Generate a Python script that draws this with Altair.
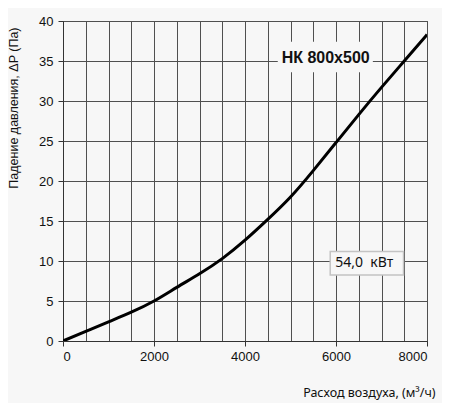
import altair as alt
import pandas as pd

# Data
airflow = [0, 500, 1000, 1500, 2000, 2500, 3000, 3500, 4000, 4500, 5000, 5500, 6000, 6500, 7000, 7500, 8000]
pressure = [0, 1.2, 2.4, 3.6, 5.0, 6.7, 8.4, 10.3, 12.6, 15.2, 18.0, 21.3, 24.8, 28.3, 31.7, 35.0, 38.3]

model_label = ["НК 800x500"]
power_label = ["54,0\u00a0\u00a0кВт"]

x_grid_values = list(range(0, 8001, 500))
y_values = list(range(0, 41, 5))

BG = "#f7f7f7"
GRID = "#505050"

curve_df = pd.DataFrame({"x": airflow, "y": pressure})

x_scale = alt.Scale(domain=[0, 8000], nice=False)
y_scale = alt.Scale(domain=[0, 40], nice=False)

x_axis = alt.Axis(
    title="Расход воздуха, (м³/ч)",
    values=x_grid_values,
    labelExpr="datum.value % 2000 === 0 ? datum.label : ''",
    labelOverlap=False,
    format="d",
    grid=True,
    gridColor=GRID,
    gridWidth=1,
    gridOpacity=1,
    tickOpacity={"condition": {"test": "datum.value % 2000 === 0", "value": 1}, "value": 0},
    tickColor="#333333",
    tickSize=5,
    domainColor="#333333",
    labelFont="Liberation Sans",
    labelFontSize=13,
    labelColor="#111111",
    labelPadding=4,
    titleFont="Noto Sans",
    titleFontSize=12.5,
    titleFontWeight="normal",
    titleColor="#111111",
    titleX=372,
    titleY=51,
    titleAlign="right",
    titleBaseline="middle",
)

y_axis = alt.Axis(
    title="Падение давления, ΔP (Па)",
    values=y_values,
    labelOverlap=False,
    grid=True,
    gridColor=GRID,
    gridWidth=1,
    gridOpacity=1,
    tickColor="#333333",
    tickSize=5,
    domainColor="#333333",
    labelFont="Liberation Sans",
    labelFontSize=13,
    labelColor="#111111",
    labelPadding=5,
    titleFont="Liberation Sans",
    titleFontSize=12.5,
    titleFontWeight="normal",
    titleColor="#111111",
    titleAngle=270,
    titleX=-50,
    titleY=6,
    titleAlign="right",
    titleBaseline="middle",
)

X = lambda f: alt.X(f, scale=x_scale, axis=x_axis)
Y = lambda f: alt.Y(f, scale=y_scale, axis=y_axis)

curve = alt.Chart(curve_df).mark_line(
    color="#000000", strokeWidth=3, interpolate="natural", clip=True
).encode(x=X("x:Q"), y=Y("y:Q"))

# Annotation boxes and texts (data coordinates)
model_box_df = pd.DataFrame({"x": [4720], "x2": [6810], "y": [37.4], "y2": [33.6]})
model_box = alt.Chart(model_box_df).mark_rect(fill=BG).encode(
    x=X("x:Q"), x2="x2:Q", y=Y("y:Q"), y2="y2:Q"
)
model_text = alt.Chart(pd.DataFrame({"x": [5773], "y": [35.4], "t": model_label})).mark_text(
    font="Liberation Sans", fontSize=16, fontWeight="bold", color="#111111",
    align="center", baseline="middle"
).encode(x=X("x:Q"), y=Y("y:Q"), text="t:N")

power_box_df = pd.DataFrame({"x": [5873], "x2": [7484], "y": [11.2], "y2": [8.25]})
power_box = alt.Chart(power_box_df).mark_rect(fill=BG, stroke="#c4c4c4", strokeWidth=1.5).encode(
    x=X("x:Q"), x2="x2:Q", y=Y("y:Q"), y2="y2:Q"
)
power_text = alt.Chart(pd.DataFrame({"x": [6620], "y": [9.7], "t": power_label})).mark_text(
    font="Noto Sans", fontSize=14, color="#111111", align="center", baseline="middle"
).encode(x=X("x:Q"), y=Y("y:Q"), text="t:N")

chart = alt.layer(curve, model_box, power_box, model_text, power_text).properties(
    width=364,
    height=320,
    background=BG,
    padding={"left": 55, "top": 13, "right": 15, "bottom": 62},
    autosize=alt.AutoSizeParams(type="none"),
).configure_view(
    stroke="#333333", strokeWidth=1
)

chart.save("out.html", embed_options={"renderer": "svg", "actions": False})
